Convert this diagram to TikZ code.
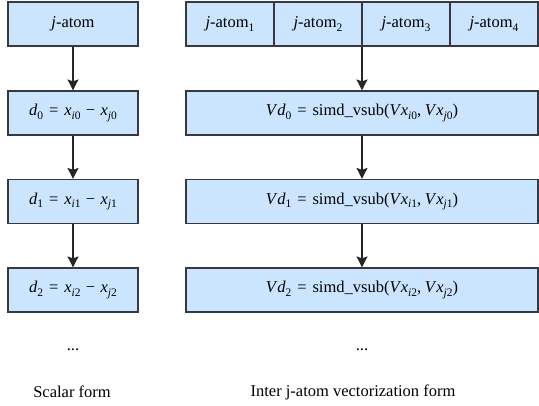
\documentclass[tikz,border=0pt]{standalone}
\usepackage{fontspec}
\setmainfont{Liberation Serif}
\usetikzlibrary{arrows.meta}
\definecolor{boxfill}{HTML}{CCE5FF}
\definecolor{boxline}{HTML}{36393D}
\newcommand{\mi}[1]{\textit{#1}}
\newcommand{\lsub}[1]{\raisebox{-0.2em}{\fontsize{11.5}{12}\selectfont #1}}
\newcommand{\meq}{\hspace{0.36em}=\hspace{0.36em}}
\newcommand{\mmin}{\hspace{0.32em}−\hspace{0.32em}}
\newcommand{\mcom}{,\hspace{0.22em}}
\begin{document}
\begin{tikzpicture}[x=1pt,y=-1pt,
  box/.style={draw=boxline, fill=boxfill, line width=1.2pt, minimum height=44pt, inner sep=0pt, font=\fontsize{16.5}{19}\selectfont},
  lbox/.style={box, minimum width=130pt},
  cell/.style={box, minimum width=88pt},
  rbox/.style={box, minimum width=352pt},
  flow/.style={draw=black!85, line width=1.5pt, -{Stealth[length=11pt,width=11pt,inset=2pt]}},
  lbl/.style={font=\fontsize{16.5}{19}\selectfont}]
\useasboundingbox (0,0) rectangle (539,406);
% scalar form
\node[lbox] (ja) at (73,24) {\mi{j}-atom};
\node[lbox] (d0) at (73,113) {\mi{d}\lsub{0}\meq\mi{x}\lsub{\mi{i}0}\mmin\mi{x}\lsub{\mi{j}0}};
\node[lbox] (d1) at (73,201.5) {\mi{d}\lsub{1}\meq\mi{x}\lsub{\mi{i}1}\mmin\mi{x}\lsub{\mi{j}1}};
\node[lbox] (d2) at (73,290) {\mi{d}\lsub{2}\meq\mi{x}\lsub{\mi{i}2}\mmin\mi{x}\lsub{\mi{j}2}};
\node[lbl] (dl) at (73,350) {...};
\node[lbl] (sl) at (72,392) {Scalar form};
\draw[flow] (ja) -- (d0);
\draw[flow] (d0) -- (d1);
\draw[flow] (d1) -- (d2);
% vector form
\node[cell] (c1) at (230,24) {\mi{j}-atom\lsub{1}};
\node[cell] (c2) at (318,24) {\mi{j}-atom\lsub{2}};
\node[cell] (c3) at (406,24) {\mi{j}-atom\lsub{3}};
\node[cell] (c4) at (494,24) {\mi{j}-atom\lsub{4}};
\node[rbox] (v0) at (362,113) {\mi{V\kern0.08em d}\lsub{0}\meq simd\_vsub(\mi{V\kern0.08em x}\lsub{\mi{i}0}\mcom\mi{V\kern0.08em x}\lsub{\mi{j}0})};
\node[rbox] (v1) at (362,201.5) {\mi{V\kern0.08em d}\lsub{1}\meq simd\_vsub(\mi{V\kern0.08em x}\lsub{\mi{i}1}\mcom\mi{V\kern0.08em x}\lsub{\mi{j}1})};
\node[rbox] (v2) at (362,290) {\mi{V\kern0.08em d}\lsub{2}\meq simd\_vsub(\mi{V\kern0.08em x}\lsub{\mi{i}2}\mcom\mi{V\kern0.08em x}\lsub{\mi{j}2})};
\node[lbl] (dr) at (362,350) {...};
\node[lbl] (vl) at (353,392) {Inter j-atom vectorization form};
\draw[flow] (v0.north |- c2.south) -- (v0.north);
\draw[flow] (v0) -- (v1);
\draw[flow] (v1) -- (v2);
\end{tikzpicture}
\end{document}
